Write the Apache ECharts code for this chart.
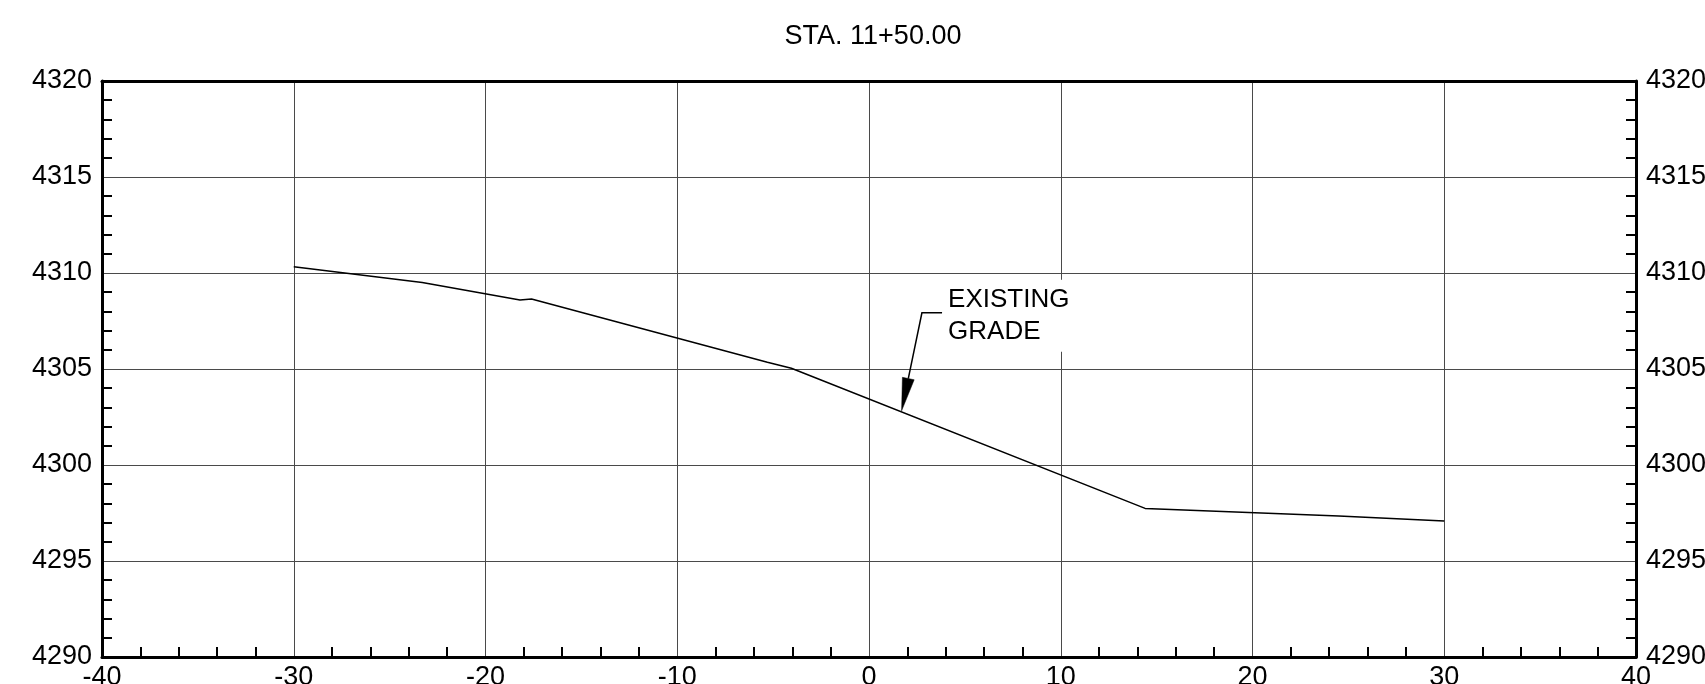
<!DOCTYPE html>
<html>
<head>
<meta charset="utf-8">
<script src="https://cdn.jsdelivr.net/npm/echarts@6/dist/echarts.min.js"></script>
<style>
  html, body { margin: 0; padding: 0; background: #fff; }
  #chart { width: 1705px; height: 684px; }
</style>
</head>
<body>
<div id="chart"></div>
<script>
// ---- data ----
const titleText = 'STA. 11+50.00';
const offsets = [-30, -23.3, -18.2, -17.6, -5.3, -4.05, 14.4, 24.5, 30];
const elevations = [4310.33, 4309.50, 4308.59, 4308.65, 4305.35, 4305.04, 4297.74, 4297.35, 4297.08];
const xRange = [-40, 40];
const yRange = [4290, 4320];
const calloutText = 'EXISTING\nGRADE';
const calloutTip = [1.7, 4302.82];
const calloutElbow = [2.76, 4307.93];
const calloutEnd = [3.81, 4307.93];

const FONT = '"Liberation Sans", Arial, sans-serif';
const chart = echarts.init(document.getElementById('chart'), null, { renderer: 'canvas' });

const lineData = offsets.map((x, i) => [x, elevations[i]]);

const labelStyle = { color: '#000', fontSize: 27, fontFamily: FONT, formatter: function (v) { return String(v); } };

const option = {
  backgroundColor: '#fff',
  animation: false,
  title: {
    text: titleText,
    left: 868,
    textAlign: 'center',
    top: 18,
    textStyle: { color: '#000', fontSize: 27, fontWeight: 'normal', fontFamily: FONT }
  },
  grid: { left: 102, right: 69, top: 81, bottom: 27, containLabel: false, outerBoundsMode: 'none' },
  xAxis: [
    {
      type: 'value', position: 'bottom', min: xRange[0], max: xRange[1], interval: 10,
      axisLine: { show: true, onZero: false, lineStyle: { color: '#000', width: 3 } },
      axisTick: { show: false, inside: true },
      minorTick: { show: true, splitNumber: 5, length: 10, lineStyle: { color: '#000', width: 2 } },
      splitLine: { show: true, lineStyle: { color: '#4a4a4a', width: 1 } },
      axisLabel: Object.assign({ margin: 7 }, labelStyle)
    },
    {
      type: 'value', position: 'top', min: xRange[0], max: xRange[1], interval: 10,
      axisLine: { show: true, onZero: false, lineStyle: { color: '#000', width: 3 } },
      axisTick: { show: false }, axisLabel: { show: false }, splitLine: { show: false }
    }
  ],
  yAxis: [
    {
      type: 'value', position: 'left', min: yRange[0], max: yRange[1], interval: 5,
      axisLine: { show: true, onZero: false, lineStyle: { color: '#000', width: 3 } },
      axisTick: { show: false, inside: true },
      minorTick: { show: true, splitNumber: 5, length: 10, lineStyle: { color: '#000', width: 2 } },
      splitLine: { show: true, lineStyle: { color: '#4a4a4a', width: 1 } },
      axisLabel: Object.assign({ margin: 10 }, labelStyle)
    },
    {
      type: 'value', position: 'right', min: yRange[0], max: yRange[1], interval: 5,
      axisLine: { show: true, onZero: false, lineStyle: { color: '#000', width: 3 } },
      axisTick: { show: false, inside: true },
      minorTick: { show: true, splitNumber: 5, length: 10, lineStyle: { color: '#000', width: 2 } },
      splitLine: { show: false },
      axisLabel: Object.assign({ margin: 10 }, labelStyle)
    }
  ],
  series: [
    {
      type: 'line',
      data: lineData,
      showSymbol: false,
      symbol: 'none',
      lineStyle: { color: '#000', width: 1.5 },
      z: 3
    },
    {
      type: 'custom',
      coordinateSystem: 'cartesian2d',
      data: [[calloutTip[0], calloutTip[1], calloutElbow[0], calloutElbow[1], calloutEnd[0], calloutEnd[1]]],
      z: 4,
      renderItem: function (params, api) {
        const tip = api.coord([api.value(0), api.value(1)]);
        const elbow = api.coord([api.value(2), api.value(3)]);
        const end = api.coord([api.value(4), api.value(5)]);
        const dx = elbow[0] - tip[0], dy = elbow[1] - tip[1];
        const len = Math.sqrt(dx * dx + dy * dy);
        const ux = dx / len, uy = dy / len;
        const headLen = 33, halfW = 6;
        const bx = tip[0] + ux * headLen, by = tip[1] + uy * headLen;
        const px = -uy, py = ux;
        return {
          type: 'group',
          children: [
            {
              type: 'text',
              style: {
                text: calloutText,
                x: end[0] + 1,
                y: end[1] + 3,
                align: 'left',
                verticalAlign: 'middle',
                fontSize: 26,
                lineHeight: 32,
                fontFamily: FONT,
                fill: '#000',
                backgroundColor: '#fff',
                padding: [4, 6, 4, 5]
              },
              z2: 1
            },
            {
              type: 'polyline',
              shape: { points: [end, elbow, [bx, by]] },
              style: { stroke: '#000', lineWidth: 1.5, fill: null },
              z2: 2
            },
            {
              type: 'polygon',
              shape: { points: [tip, [bx + px * halfW, by + py * halfW], [bx - px * halfW, by - py * halfW]] },
              style: { fill: '#000', stroke: '#000', lineWidth: 0.5 },
              z2: 2
            }
          ]
        };
      }
    }
  ]
};

chart.setOption(option);
</script>
</body>
</html>
